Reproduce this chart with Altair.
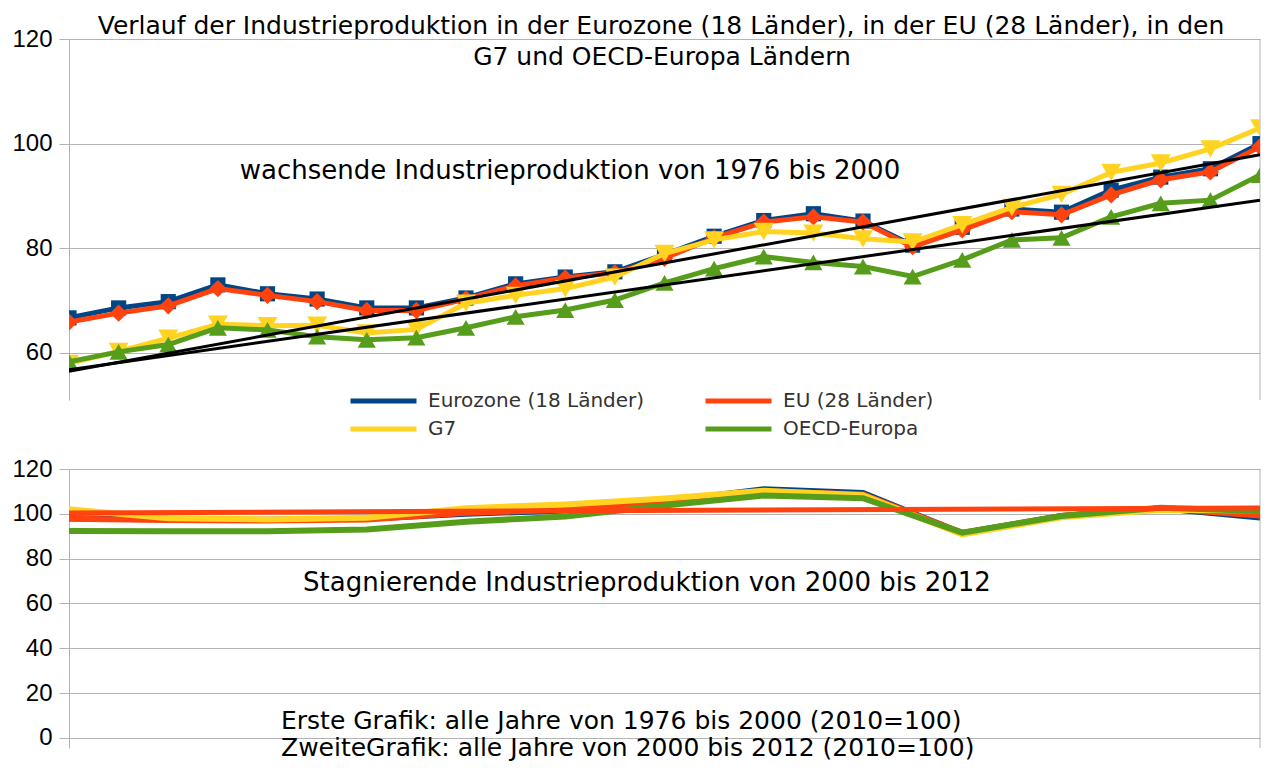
import altair as alt
import pandas as pd

# ---------------- data ----------------
series_names = ["Eurozone (18 Länder)", "EU (28 Länder)", "G7", "OECD-Europa"]
series_colors = ["#004586", "#ff420e", "#ffd320", "#579d1c"]
series_shapes = ["square", "diamond", "triangle-down", "triangle-up"]
marker_sizes = [230, 300, 400, 330]

years_top = list(range(1976, 2001))
eurozone_top = [66.7, 68.6, 69.8, 73.0, 71.3, 70.3, 68.6, 68.6, 70.5, 73.2, 74.5, 75.5,
                78.8, 82.3, 85.3, 86.6, 85.2, 80.6, 84.0, 87.5, 86.9, 91.1, 93.6, 95.2, 100.0]
eu_top = [65.9, 67.6, 69.0, 72.3, 71.0, 69.8, 68.1, 68.1, 70.3, 72.8, 74.3, 75.3,
          78.1, 82.0, 85.0, 86.0, 85.0, 80.3, 83.5, 87.0, 86.4, 90.2, 93.1, 94.6, 99.4]
g7_top = [58.0, 60.3, 62.8, 65.5, 65.2, 65.3, 63.8, 64.5, 69.5, 71.0, 72.3, 74.5,
          79.0, 81.6, 83.2, 82.9, 81.8, 81.2, 84.5, 87.8, 90.3, 94.5, 96.3, 99.0, 103.0]
oecd_top = [58.3, 60.2, 61.6, 64.8, 64.4, 63.1, 62.5, 62.9, 64.8, 66.9, 68.2, 70.1,
            73.4, 76.1, 78.4, 77.3, 76.5, 74.6, 77.8, 81.6, 82.0, 86.0, 88.6, 89.2, 94.0]

trend_years_top = [1976, 2000]
trend_upper_top = [56.5, 97.9]
trend_lower_top = [56.8, 89.2]

years_bottom = list(range(2000, 2013))
eurozone_bottom = [98.0, 97.5, 97.3, 97.8, 100.0, 101.5, 105.5, 111.0, 109.3, 91.3, 99.0, 102.5, 98.3]
eu_bottom = [97.8, 97.2, 97.0, 97.5, 100.5, 101.8, 105.0, 110.0, 108.6, 91.5, 99.0, 102.5, 99.3]
g7_bottom = [102.0, 98.0, 97.5, 98.2, 102.5, 104.2, 106.8, 110.3, 108.3, 90.8, 98.5, 101.8, 101.5]
oecd_bottom = [92.3, 92.2, 92.2, 93.0, 96.5, 98.8, 103.7, 108.2, 107.0, 91.6, 99.0, 102.7, 101.3]

trend_years_bottom = [2000, 2012]
trend_eu_bottom = [100.4, 102.6]

y_ticks_top = [60, 80, 100, 120]
y_ticks_bottom = [0, 20, 40, 60, 80, 100, 120]

title_line1 = "Verlauf der Industrieproduktion in der Eurozone (18 Länder), in der EU (28 Länder), in den"
title_line2 = "G7 und OECD-Europa Ländern"
note_top = "wachsende Industrieproduktion von 1976 bis 2000"
note_bottom = "Stagnierende Industrieproduktion von 2000 bis 2012"
footer_line1 = "Erste Grafik: alle Jahre von 1976 bis 2000 (2010=100)"
footer_line2 = "ZweiteGrafik: alle Jahre von 2000 bis 2012 (2010=100)"

# ---------------- tables ----------------
def long_table(years, columns):
    rows = []
    for name, vals in zip(series_names, columns):
        for yr, v in zip(years, vals):
            rows.append({"year": yr, "value": v, "series": name})
    return pd.DataFrame(rows)

df_top = long_table(years_top, [eurozone_top, eu_top, g7_top, oecd_top])
df_bottom = long_table(years_bottom, [eurozone_bottom, eu_bottom, g7_bottom, oecd_bottom])
df_trend_top = pd.DataFrame({
    "year": trend_years_top + trend_years_top,
    "value": trend_upper_top + trend_lower_top,
    "trend": ["oben", "oben", "unten", "unten"],
})
df_trend_bottom = pd.DataFrame({"year": trend_years_bottom, "value": trend_eu_bottom})

# ---------------- scales / guides ----------------
W = 1191
H_TOP = 361
H_BOTTOM = 279

color_scale = alt.Scale(domain=series_names, range=series_colors)
legend = alt.Legend(
    title=None, orient="none", legendX=279, legendY=348, columns=2, direction="horizontal",
    symbolType="stroke", symbolSize=4356, symbolStrokeWidth=5,
    labelFont="DejaVu Sans", labelFontSize=20, labelColor="#333333",
    labelOffset=9, labelLimit=400, columnPadding=58, rowPadding=0,
    clipHeight=28, padding=0,
)

x_top = alt.X("year:Q", scale=alt.Scale(domain=[1976, 2000], nice=False, zero=False), axis=None)
y_top = alt.Y("value:Q", scale=alt.Scale(domain=[51, 120], nice=False, zero=False),
              axis=alt.Axis(values=y_ticks_top), title=None)
x_bot = alt.X("year:Q", scale=alt.Scale(domain=[2000, 2012], nice=False, zero=False), axis=None)
y_bot = alt.Y("value:Q", scale=alt.Scale(domain=[-4.5, 120], nice=False, zero=False),
              axis=alt.Axis(values=y_ticks_bottom), title=None)


def text_layer(txt, x, y, size, align="center"):
    return alt.Chart(pd.DataFrame({"label": [txt]})).mark_text(
        font="DejaVu Sans", fontSize=size, align=align, baseline="middle", color="#000000"
    ).encode(x=alt.value(x), y=alt.value(y), text="label:N")


# ---------------- top panel ----------------
top_layers = [
    alt.Chart(pd.DataFrame({"year": [years_top[-1]]})).mark_rule(color="#b3b3b3", strokeWidth=1)
    .encode(x=x_top)
]
for name, col, shp, sz in zip(series_names, series_colors, series_shapes, marker_sizes):
    base = alt.Chart(df_top).transform_filter(alt.datum.series == name)
    top_layers.append(
        base.mark_line(strokeWidth=5, clip=True).encode(
            x=x_top, y=y_top, color=alt.Color("series:N", scale=color_scale, legend=legend)
        )
    )
    top_layers.append(
        base.mark_point(shape=shp, filled=True, size=sz, opacity=1, color=col, clip=True)
        .encode(x=x_top, y=y_top)
    )
top_layers.append(
    alt.Chart(df_trend_top).mark_line(color="#000000", strokeWidth=3, clip=True).encode(
        x=x_top, y=y_top, detail="trend:N"
    )
)
top_layers += [
    text_layer(title_line1, 592, -13, 25),
    text_layer(title_line2, 593, 18, 25),
    text_layer(note_top, 501, 132, 26),
]
top = alt.layer(*top_layers).properties(width=W, height=H_TOP)

# ---------------- bottom panel ----------------
bottom_layers = [
    alt.Chart(pd.DataFrame({"year": [years_bottom[-1]]})).mark_rule(color="#b3b3b3", strokeWidth=1)
    .encode(x=x_bot)
]
for name in series_names:
    base = alt.Chart(df_bottom).transform_filter(alt.datum.series == name)
    bottom_layers.append(
        base.mark_line(strokeWidth=6, clip=True).encode(
            x=x_bot, y=y_bot, color=alt.Color("series:N", scale=color_scale, legend=legend)
        )
    )
bottom_layers.append(
    alt.Chart(df_trend_bottom).mark_line(color="#ff420e", strokeWidth=5, clip=True)
    .encode(x=x_bot, y=y_bot)
)
bottom_layers += [
    text_layer(note_bottom, 578, 114, 26),
    text_layer(footer_line1, 212, 252, 25, align="left"),
    text_layer(footer_line2, 212, 279, 25, align="left"),
]
bottom = alt.layer(*bottom_layers).properties(width=W, height=H_BOTTOM)

chart = (
    alt.vconcat(top, bottom, spacing=56)
    .resolve_scale(x="independent", y="independent", color="shared")
    .properties(padding={"left": 3, "top": 6, "right": 0, "bottom": 0})
    .configure_view(strokeWidth=0)
    .configure_axis(
        gridColor="#b3b3b3", gridWidth=1, domainColor="#b3b3b3", domainWidth=1,
        tickColor="#b3b3b3", tickSize=10, tickWidth=1, labelPadding=7,
        labelFont="Liberation Sans", labelFontSize=24, labelColor="#000000",
    )
)

chart.save("out.html", embed_options={"renderer": "svg", "actions": False})
